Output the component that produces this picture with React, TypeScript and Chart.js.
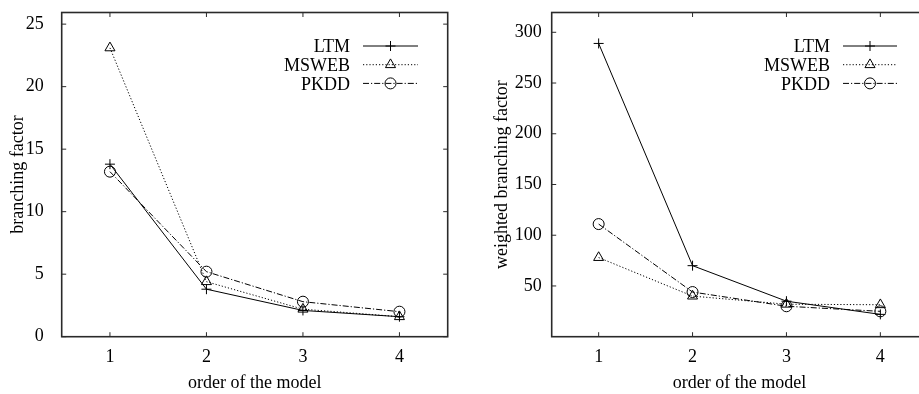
import React, { useEffect, useRef } from 'react';
import { Chart, registerables } from 'chart.js';
import { drawPoint } from 'chart.js/helpers';

Chart.register(...registerables);

// ---------- data ----------
const orders = [1, 2, 3, 4];
const seriesNames = ['LTM', 'MSWEB', 'PKDD'];

const bfLTM = [13.8, 3.8, 2.1, 1.6];
const bfMSWEB = [23.1, 4.4, 2.2, 1.6];
const bfPKDD = [13.2, 5.2, 2.8, 2.0];

const wbfLTM = [289, 70, 35, 22];
const wbfMSWEB = [78, 40, 32, 31.5];
const wbfPKDD = [111, 44, 30, 25];

const bfTicks = [0, 5, 10, 15, 20, 25];
const wbfTicks = [50, 100, 150, 200, 250, 300];

const xTitle = 'order of the model';
const bfTitle = 'branching factor';
const wbfTitle = 'weighted branching factor';

// ---------- styling ----------
const FONT = { family: '"Liberation Serif", "Times New Roman", Times, serif', size: 18 };
const seriesStyles = [
  { borderDash: [] as number[], pointStyle: 'cross', pointRadius: 5 },
  { borderDash: [1.2, 2], pointStyle: 'triangle', pointRadius: 5.8 },
  { borderDash: [6, 2, 1.2, 2], pointStyle: 'circle', pointRadius: 5.5 },
];

const framePlugin = {
  id: 'gpFrame',
  afterDatasetsDraw(chart: any) {
    const { ctx, chartArea: a, scales } = chart;
    ctx.save();
    ctx.strokeStyle = '#2a2a2a';
    ctx.lineWidth = 1.6;
    ctx.setLineDash([]);
    ctx.strokeRect(a.left, a.top, a.right - a.left, a.bottom - a.top);
    const tl = 4.5;
    ctx.lineWidth = 1;
    ctx.beginPath();
    scales.x.ticks.forEach((t: any) => {
      const px = scales.x.getPixelForValue(t.value);
      ctx.moveTo(px, a.bottom);
      ctx.lineTo(px, a.bottom - tl);
      ctx.moveTo(px, a.top);
      ctx.lineTo(px, a.top + tl);
    });
    scales.y.ticks.forEach((t: any) => {
      const py = scales.y.getPixelForValue(t.value);
      ctx.moveTo(a.left, py);
      ctx.lineTo(a.left + tl, py);
      ctx.moveTo(a.right, py);
      ctx.lineTo(a.right - tl, py);
    });
    ctx.stroke();
    ctx.restore();
  },
};

const legendPlugin = {
  id: 'gpLegend',
  afterDraw(chart: any, _args: any, opts: any) {
    const ctx = chart.ctx;
    ctx.save();
    ctx.font = `${FONT.size}px ${FONT.family}`;
    ctx.textAlign = 'right';
    ctx.textBaseline = 'alphabetic';
    chart.data.datasets.forEach((ds: any, i: number) => {
      const y = opts.y0 + i * opts.dy;
      ctx.fillStyle = '#000';
      ctx.fillText(ds.label, opts.textRight, y + 6.3);
      ctx.strokeStyle = '#000';
      ctx.lineWidth = 1;
      ctx.setLineDash(ds.borderDash || []);
      ctx.beginPath();
      ctx.moveTo(opts.lineStart, y);
      ctx.lineTo(opts.lineEnd, y);
      ctx.stroke();
      ctx.setLineDash([]);
      ctx.fillStyle = 'rgba(0,0,0,0)';
      drawPoint(ctx, { pointStyle: ds.pointStyle, radius: ds.pointRadius, rotation: 0, borderWidth: 1 } as any,
        (opts.lineStart + opts.lineEnd) / 2, y);
    });
    ctx.restore();
  },
};

function makeConfig(p: {
  series: number[][];
  yTicks: number[];
  yMax: number;
  yTitle: string;
  yWidth: number;
  yTickPad: number;
  yTitlePad: number;
  padRight: number;
  legend: any;
}) {
  return {
    type: 'line' as const,
    data: {
      datasets: p.series.map((vals, i) => ({
        label: seriesNames[i],
        data: orders.map((x, j) => ({ x, y: vals[j] })),
        borderColor: '#000',
        borderWidth: 1,
        backgroundColor: 'rgba(0,0,0,0)',
        pointBackgroundColor: 'rgba(0,0,0,0)',
        pointBorderColor: '#000',
        pointBorderWidth: 1,
        borderDash: seriesStyles[i].borderDash,
        pointStyle: seriesStyles[i].pointStyle,
        pointRadius: seriesStyles[i].pointRadius,
        tension: 0,
        fill: false,
      })),
    },
    options: {
      responsive: false,
      animation: false,
      devicePixelRatio: 1,
      layout: { padding: { top: 12.5, right: p.padRight, left: 0, bottom: 0 } },
      plugins: {
        legend: { display: false },
        tooltip: { enabled: false },
        gpLegend: p.legend,
      },
      scales: {
        x: {
          type: 'linear',
          min: 0.5,
          max: 4.5,
          afterBuildTicks: (s: any) => { s.ticks = orders.map((v) => ({ value: v })); },
          afterFit: (s: any) => { s.height = 57.3; s.paddingLeft = 0; s.paddingRight = 0; },
          grid: { display: false, drawTicks: false },
          border: { display: false },
          ticks: { padding: 10, color: '#000', font: FONT, callback: (v: any) => String(v), maxRotation: 0 },
          title: { display: true, text: xTitle, color: '#000', font: FONT, padding: { top: 0, bottom: 0 } },
        },
        y: {
          type: 'linear',
          min: 0,
          max: p.yMax,
          afterBuildTicks: (s: any) => { s.ticks = p.yTicks.map((v) => ({ value: v })); },
          afterFit: (s: any) => { s.width = p.yWidth; s.paddingTop = 0; s.paddingBottom = 0; },
          grid: { display: false, drawTicks: false },
          border: { display: false },
          ticks: { padding: p.yTickPad, color: '#000', font: FONT, callback: (v: any) => String(v) },
          title: { display: true, text: p.yTitle, color: '#000', font: FONT, padding: { top: p.yTitlePad, bottom: 0 } },
        },
      },
    },
    plugins: [framePlugin, legendPlugin],
  };
}

function Plot({ left, width, config }: { left: number; width: number; config: any }) {
  const ref = useRef<HTMLCanvasElement>(null);
  useEffect(() => {
    const chart = new Chart(ref.current as HTMLCanvasElement, config);
    return () => chart.destroy();
  }, []);
  return (
    <canvas
      ref={ref}
      width={width}
      height={394}
      style={{ position: 'absolute', left, top: 0, width, height: 394, display: 'block' }}
    />
  );
}

export default function App() {
  const leftCfg = makeConfig({
    series: [bfLTM, bfMSWEB, bfPKDD],
    yTicks: bfTicks,
    yMax: 25.93,
    yTitle: bfTitle,
    yWidth: 61.7,
    yTickPad: 18,
    yTitlePad: 7,
    padRight: 12.3,
    legend: { textRight: 350, lineStart: 363, lineEnd: 418, y0: 46, dy: 18.7 },
  });
  const rightCfg = makeConfig({
    series: [wbfLTM, wbfMSWEB, wbfPKDD],
    yTicks: wbfTicks,
    yMax: 319.5,
    yTitle: wbfTitle,
    yWidth: 91.7,
    yTickPad: 10,
    yTitlePad: 31,
    padRight: 12.7,
    legend: { textRight: 370, lineStart: 383, lineEnd: 437, y0: 46, dy: 18.7 },
  });
  return (
    <div
      style={{
        position: 'absolute',
        left: 0,
        top: 0,
        width: 919,
        height: 394,
        overflow: 'hidden',
        background: '#fff',
      }}
    >
      <Plot left={0} width={460} config={leftCfg} />
      <Plot left={460} width={480} config={rightCfg} />
    </div>
  );
}
